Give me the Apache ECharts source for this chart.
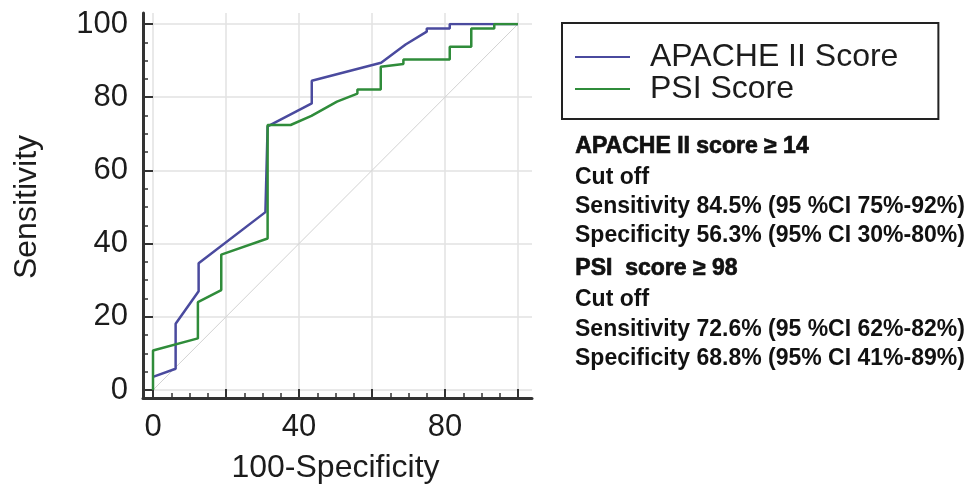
<!DOCTYPE html>
<html>
<head>
<meta charset="utf-8">
<script src="https://cdn.jsdelivr.net/npm/echarts@6/dist/echarts.min.js"></script>
<style>
  html, body { margin: 0; padding: 0; background: #fff; }
  #roc { width: 967px; height: 491px; }
</style>
</head>
<body>
<div id="roc"></div>
<script>
// ROC curve points (100-Specificity, Sensitivity)
let apacheX = [0, 6.2, 6.2, 12.5, 12.5, 30.8, 31.4, 43.5, 43.5, 62.5, 69.2, 75, 75, 81.3, 81.3, 93.5, 100]
let apacheY = [3.6, 5.8, 18.1, 27, 34.6, 48.6, 72, 78.3, 84.5, 89.4, 94.4, 97.9, 98.8, 98.8, 100, 100, 100]

let psiX = [0, 0, 12.3, 12.3, 18.7, 18.7, 31.4, 31.4, 37.7, 43.4, 50.4, 56, 56, 62.4, 62.4, 68.6, 68.6, 81.3, 81.3, 87.2, 87.2, 93.5, 93.5, 100]
let psiY = [0, 10.8, 14.1, 24, 27.3, 37, 41.4, 72.4, 72.4, 74.9, 78.8, 81, 82.1, 82.1, 88.3, 89.1, 90.3, 90.3, 93.8, 93.8, 98.8, 98.8, 100, 100]

let diagX = [0, 100]
let diagY = [0, 100]

let xLabelValues = [0, 40, 80]
let seriesNames = ['APACHE II Score', 'PSI Score']

let noteLines = [
    {text: 'APACHE II score \u2265 14', head: true},
    {text: 'Cut off'},
    {text: 'Sensitivity 84.5% (95 %CI 75%-92%)'},
    {text: 'Specificity 56.3% (95% CI 30%-80%)'},
    {text: 'PSI  score \u2265 98', head: true},
    {text: 'Cut off'},
    {text: 'Sensitivity 72.6% (95 %CI 62%-82%)'},
    {text: 'Specificity 68.8% (95% CI 41%-89%)'}
]
let noteTops = [135, 166, 195, 224, 257, 288, 318, 347]

function pairs(xs, ys) {
    return xs.map((x, i) => [x, ys[i]])
}

let rocChart = echarts.init(document.getElementById('roc'));

const font = 'Liberation Sans, Arial, Helvetica, sans-serif'
const ink = '#1c1c1c'
const axisInk = '#333333'
const gridInk = '#e2e2e2'

let hidden = {
    axisLine: {show: false},
    axisTick: {show: false},
    axisLabel: {show: false},
    splitLine: {show: false}
}

let option = {
    animation: false,
    backgroundColor: '#ffffff',
    grid: [
        {left: 153, top: 24, width: 365, height: 366},   // data
        {left: 143, top: 13, width: 389, height: 385},   // axis frame
        {left: 153, top: 13, width: 365, height: 385},   // x ticks, labels, vertical grid lines
        {left: 143, top: 24, width: 389, height: 366}    // y ticks, labels, horizontal grid lines
    ],
    xAxis: [
        Object.assign({gridIndex: 0, type: 'value', min: 0, max: 100}, hidden),
        Object.assign({gridIndex: 1, type: 'value', min: 0, max: 1}, hidden,
            {axisLine: {show: true, lineStyle: {color: axisInk, width: 3}}}),
        {
            gridIndex: 2,
            type: 'value',
            min: 0,
            max: 100,
            interval: 20,
            axisLine: {show: false},
            axisTick: {show: true, inside: true, length: 9, lineStyle: {color: axisInk, width: 2}},
            minorTick: {show: true, splitNumber: 4, length: 5, lineStyle: {color: axisInk, width: 1.5}},
            splitLine: {show: true, lineStyle: {color: gridInk, width: 1.5}},
            axisLabel: {
                margin: 14,
                fontSize: 31,
                fontFamily: font,
                color: ink,
                formatter: v => xLabelValues.includes(v) ? String(v) : ''
            },
            name: '100-Specificity',
            nameLocation: 'middle',
            nameGap: 54,
            nameTextStyle: {fontSize: 32, fontFamily: font, color: ink}
        },
        Object.assign({gridIndex: 3, type: 'value', min: 0, max: 1}, hidden)
    ],
    yAxis: [
        Object.assign({gridIndex: 0, type: 'value', min: 0, max: 100}, hidden),
        Object.assign({gridIndex: 1, type: 'value', min: 0, max: 1}, hidden,
            {axisLine: {show: true, lineStyle: {color: axisInk, width: 3}}}),
        Object.assign({gridIndex: 2, type: 'value', min: 0, max: 1}, hidden),
        {
            gridIndex: 3,
            type: 'value',
            min: 0,
            max: 100,
            interval: 20,
            axisLine: {show: false},
            axisTick: {show: true, inside: true, length: 10, lineStyle: {color: axisInk, width: 2}},
            minorTick: {show: true, splitNumber: 4, length: 5, lineStyle: {color: axisInk, width: 1.5}},
            splitLine: {show: true, lineStyle: {color: gridInk, width: 1.5}},
            axisLabel: {margin: 15, fontSize: 31, fontFamily: font, color: ink},
            name: 'Sensitivity',
            nameLocation: 'middle',
            nameGap: 100,
            nameTextStyle: {fontSize: 32, fontFamily: font, color: ink}
        }
    ],
    legend: {
        data: seriesNames,
        orient: 'vertical',
        left: 562,
        top: 23,
        padding: [18, 40, 14, 13],
        itemGap: 0,
        itemWidth: 55,
        itemHeight: 2,
        icon: 'rect',
        borderColor: '#222222',
        borderWidth: 2,
        textStyle: {fontSize: 32, fontFamily: font, color: ink, lineHeight: 31, padding: [0, 0, 0, 15]}
    },
    graphic: noteLines.map((line, i) => ({
        type: 'text',
        left: 575,
        top: noteTops[i],
        silent: true,
        style: {
            text: line.text,
            fill: '#111111',
            fontFamily: font,
            fontWeight: 'bold',
            fontSize: 23,
            stroke: line.head ? '#111111' : null,
            lineWidth: line.head ? 0.7 : 0
        }
    })),
    series: [
        {
            type: 'line',
            data: pairs(diagX, diagY),
            xAxisIndex: 0,
            yAxisIndex: 0,
            symbol: 'none',
            silent: true,
            lineStyle: {color: '#d2d2d2', width: 1}
        },
        {
            name: seriesNames[0],
            type: 'line',
            data: pairs(apacheX, apacheY),
            xAxisIndex: 0,
            yAxisIndex: 0,
            symbol: 'none',
            color: '#4a4a9e',
            lineStyle: {color: '#4a4a9e', width: 2.5}
        },
        {
            name: seriesNames[1],
            type: 'line',
            data: pairs(psiX, psiY),
            xAxisIndex: 0,
            yAxisIndex: 0,
            symbol: 'none',
            color: '#2f8c3a',
            lineStyle: {color: '#2f8c3a', width: 2.5}
        }
    ]
};
rocChart.setOption(option);
</script>
</body>
</html>
